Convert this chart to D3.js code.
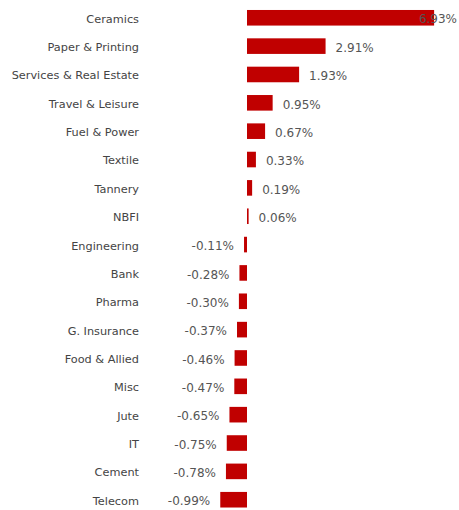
<!DOCTYPE html>
<html>
<head>
<meta charset="utf-8">
<script src="https://cdn.jsdelivr.net/npm/d3@7"></script>
<style>
  body { margin: 0; background: #fff; }
  svg text { font-family: Verdana, "DejaVu Sans", sans-serif; }
</style>
</head>
<body>
<div id="chart"></div>
<script>
const sectors = ["Ceramics", "Paper & Printing", "Services & Real Estate", "Travel & Leisure",
    "Fuel & Power", "Textile", "Tannery", "NBFI", "Engineering", "Bank", "Pharma",
    "G. Insurance", "Food & Allied", "Misc", "Jute", "IT", "Cement", "Telecom"];
const changes = [6.93, 2.91, 1.93, 0.95, 0.67, 0.33, 0.19, 0.06, -0.11, -0.28, -0.30,
    -0.37, -0.46, -0.47, -0.65, -0.75, -0.78, -0.99];

const width = 459, height = 510;
const data = sectors.map((s, i) => ({ sector: s, value: changes[i] }));

const svg = d3.select("#chart").append("svg")
    .attr("width", width)
    .attr("height", height);

const x = d3.scaleLinear()
    .domain([-1, 7])
    .range([220, 436]);

const y = d3.scaleBand()
    .domain(sectors)
    .range([3.6, 513.9])
    .paddingInner(0.45)
    .paddingOuter(0.225);

svg.selectAll(".bar")
    .data(data)
    .enter()
    .append("rect")
    .attr("class", "bar")
    .attr("x", d => Math.min(x(0), x(d.value)))
    .attr("y", d => y(d.sector))
    .attr("width", d => Math.max(1.5, Math.abs(x(d.value) - x(0))))
    .attr("height", y.bandwidth())
    .attr("fill", "#c00000");

// category names
svg.selectAll(".cat")
    .data(data)
    .enter()
    .append("text")
    .attr("class", "cat")
    .attr("x", 139)
    .attr("y", d => y(d.sector) + y.bandwidth() / 2 + 1)
    .attr("dy", "0.35em")
    .attr("text-anchor", "end")
    .style("font-size", "11.3px")
    .style("fill", "#444")
    .text(d => d.sector);

// value labels
svg.selectAll(".val")
    .data(data)
    .enter()
    .append("text")
    .attr("class", "val")
    .attr("y", d => y(d.sector) + y.bandwidth() / 2 + 1.5)
    .attr("dy", "0.35em")
    .style("font-size", "12px")
    .style("fill", "#555")
    .text(d => d.value.toFixed(2) + "%")
    .each(function (d) {
        const t = d3.select(this);
        const w = this.getComputedTextLength();
        if (d.value >= 0) {
            let px = x(d.value) + 10;
            if (px + w > width - 2) px = width - 2 - w;
            t.attr("x", px).attr("text-anchor", "start");
        } else {
            t.attr("x", x(d.value) - 10).attr("text-anchor", "end");
        }
    });
</script>
</body>
</html>
